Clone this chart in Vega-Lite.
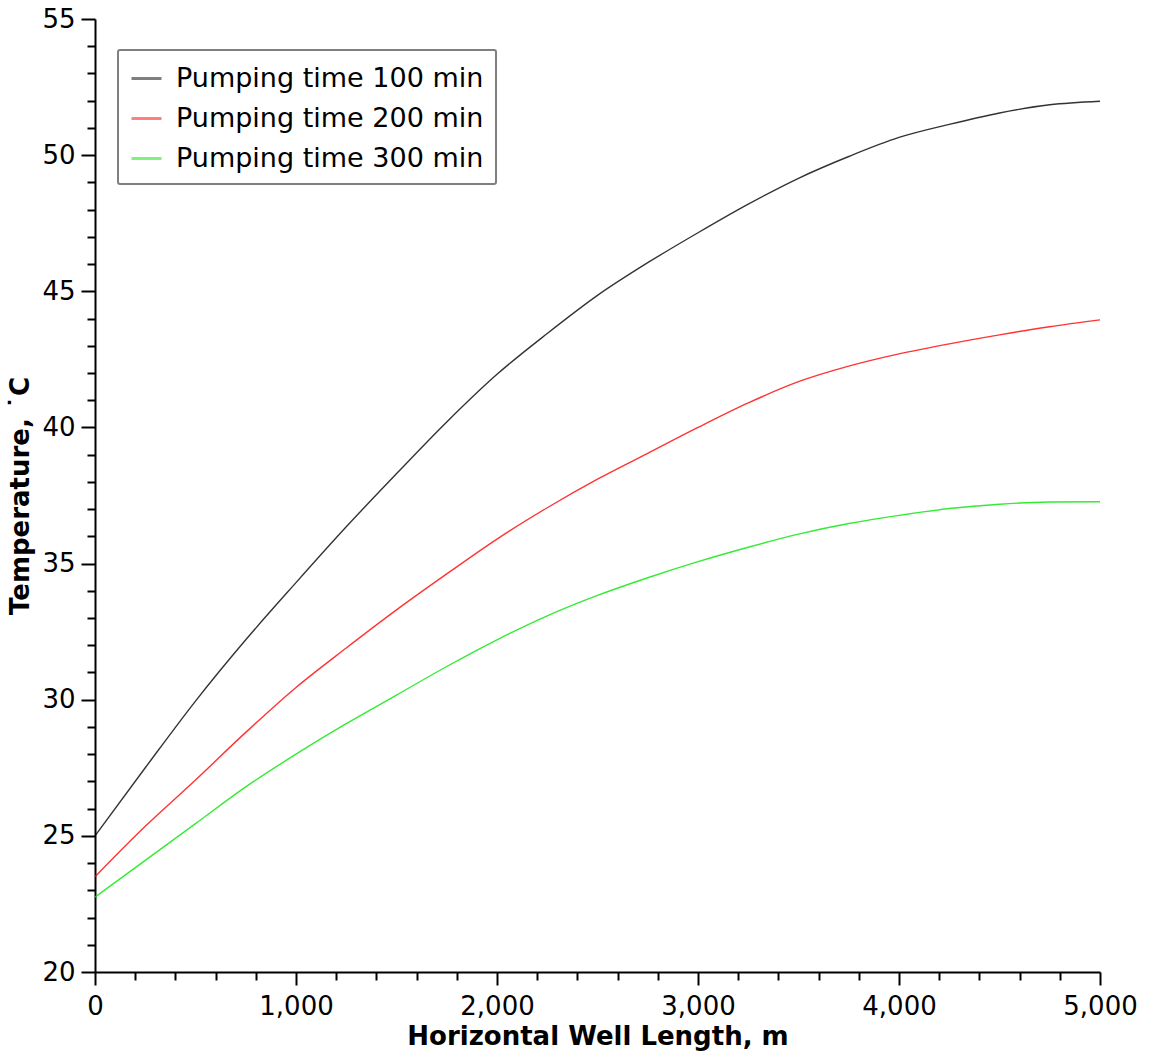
{
  "$schema": "https://vega.github.io/schema/vega-lite/v6.json",
  "autosize": "none",
  "width": 1005,
  "height": 953,
  "padding": {"left": 95, "top": 19, "right": 49, "bottom": 85},
  "background": "white",
  "config": {"view": {"stroke": null}, "font": "DejaVu Sans"},
  "data": {
    "values": [
      {"length_m": 0, "series": "Pumping time 100 min", "temp": 25.0},
      {"length_m": 250, "series": "Pumping time 100 min", "temp": 27.5},
      {"length_m": 500, "series": "Pumping time 100 min", "temp": 29.95},
      {"length_m": 750, "series": "Pumping time 100 min", "temp": 32.2},
      {"length_m": 1000, "series": "Pumping time 100 min", "temp": 34.3},
      {"length_m": 1250, "series": "Pumping time 100 min", "temp": 36.35},
      {"length_m": 1500, "series": "Pumping time 100 min", "temp": 38.3},
      {"length_m": 1750, "series": "Pumping time 100 min", "temp": 40.2},
      {"length_m": 2000, "series": "Pumping time 100 min", "temp": 41.95},
      {"length_m": 2250, "series": "Pumping time 100 min", "temp": 43.45},
      {"length_m": 2500, "series": "Pumping time 100 min", "temp": 44.85},
      {"length_m": 2750, "series": "Pumping time 100 min", "temp": 46.05},
      {"length_m": 3000, "series": "Pumping time 100 min", "temp": 47.15},
      {"length_m": 3250, "series": "Pumping time 100 min", "temp": 48.2},
      {"length_m": 3500, "series": "Pumping time 100 min", "temp": 49.15},
      {"length_m": 3750, "series": "Pumping time 100 min", "temp": 49.95},
      {"length_m": 4000, "series": "Pumping time 100 min", "temp": 50.65},
      {"length_m": 4250, "series": "Pumping time 100 min", "temp": 51.13},
      {"length_m": 4500, "series": "Pumping time 100 min", "temp": 51.55},
      {"length_m": 4750, "series": "Pumping time 100 min", "temp": 51.85},
      {"length_m": 5000, "series": "Pumping time 100 min", "temp": 51.98},

      {"length_m": 0, "series": "Pumping time 200 min", "temp": 23.5},
      {"length_m": 250, "series": "Pumping time 200 min", "temp": 25.35},
      {"length_m": 500, "series": "Pumping time 200 min", "temp": 27.05},
      {"length_m": 750, "series": "Pumping time 200 min", "temp": 28.8},
      {"length_m": 1000, "series": "Pumping time 200 min", "temp": 30.45},
      {"length_m": 1250, "series": "Pumping time 200 min", "temp": 31.9},
      {"length_m": 1500, "series": "Pumping time 200 min", "temp": 33.3},
      {"length_m": 1750, "series": "Pumping time 200 min", "temp": 34.62},
      {"length_m": 2000, "series": "Pumping time 200 min", "temp": 35.9},
      {"length_m": 2250, "series": "Pumping time 200 min", "temp": 37.05},
      {"length_m": 2500, "series": "Pumping time 200 min", "temp": 38.1},
      {"length_m": 2750, "series": "Pumping time 200 min", "temp": 39.05},
      {"length_m": 3000, "series": "Pumping time 200 min", "temp": 40.0},
      {"length_m": 3250, "series": "Pumping time 200 min", "temp": 40.9},
      {"length_m": 3500, "series": "Pumping time 200 min", "temp": 41.68},
      {"length_m": 3750, "series": "Pumping time 200 min", "temp": 42.25},
      {"length_m": 4000, "series": "Pumping time 200 min", "temp": 42.7},
      {"length_m": 4250, "series": "Pumping time 200 min", "temp": 43.07},
      {"length_m": 4500, "series": "Pumping time 200 min", "temp": 43.4},
      {"length_m": 4750, "series": "Pumping time 200 min", "temp": 43.7},
      {"length_m": 5000, "series": "Pumping time 200 min", "temp": 43.95},

      {"length_m": 0, "series": "Pumping time 300 min", "temp": 22.75},
      {"length_m": 250, "series": "Pumping time 300 min", "temp": 24.1},
      {"length_m": 500, "series": "Pumping time 300 min", "temp": 25.45},
      {"length_m": 750, "series": "Pumping time 300 min", "temp": 26.8},
      {"length_m": 1000, "series": "Pumping time 300 min", "temp": 28.0},
      {"length_m": 1250, "series": "Pumping time 300 min", "temp": 29.12},
      {"length_m": 1500, "series": "Pumping time 300 min", "temp": 30.17},
      {"length_m": 1750, "series": "Pumping time 300 min", "temp": 31.22},
      {"length_m": 2000, "series": "Pumping time 300 min", "temp": 32.2},
      {"length_m": 2250, "series": "Pumping time 300 min", "temp": 33.08},
      {"length_m": 2500, "series": "Pumping time 300 min", "temp": 33.83},
      {"length_m": 2750, "series": "Pumping time 300 min", "temp": 34.48},
      {"length_m": 3000, "series": "Pumping time 300 min", "temp": 35.07},
      {"length_m": 3250, "series": "Pumping time 300 min", "temp": 35.6},
      {"length_m": 3500, "series": "Pumping time 300 min", "temp": 36.08},
      {"length_m": 3750, "series": "Pumping time 300 min", "temp": 36.47},
      {"length_m": 4000, "series": "Pumping time 300 min", "temp": 36.77},
      {"length_m": 4250, "series": "Pumping time 300 min", "temp": 37.02},
      {"length_m": 4500, "series": "Pumping time 300 min", "temp": 37.18},
      {"length_m": 4750, "series": "Pumping time 300 min", "temp": 37.26},
      {"length_m": 5000, "series": "Pumping time 300 min", "temp": 37.27}
    ]
  },
  "mark": {"type": "line", "strokeWidth": 1.4, "strokeOpacity": 0.8, "interpolate": "monotone"},
  "encoding": {
    "x": {
      "field": "length_m",
      "type": "quantitative",
      "scale": {"domain": [0, 5000], "nice": false, "zero": false},
      "axis": {
        "title": "Horizontal Well Length, m",
        "values": [0, 200, 400, 600, 800, 1000, 1200, 1400, 1600, 1800, 2000, 2200, 2400, 2600, 2800, 3000, 3200, 3400, 3600, 3800, 4000, 4200, 4400, 4600, 4800, 5000],
        "labelExpr": "datum.value % 1000 === 0 ? format(datum.value, ',') : ''",
        "tickSize": {"condition": {"test": "datum.value % 1000 === 0", "value": 13}, "value": 8},
        "tickColor": "black",
        "tickWidth": 2,
        "domainColor": "black",
        "domainWidth": 2,
        "grid": false,
        "labelOverlap": false,
        "labelFlush": false,
        "labelFont": "DejaVu Sans",
        "labelFontSize": 26,
        "labelColor": "black",
        "labelPadding": 8,
        "titleFont": "DejaVu Sans",
        "titleFontSize": 26,
        "titleFontWeight": "bold",
        "titleColor": "black",
        "titlePadding": 4
      }
    },
    "y": {
      "field": "temp",
      "type": "quantitative",
      "scale": {"domain": [20, 55], "nice": false, "zero": false},
      "axis": {
        "title": "Temperature, ˙C",
        "values": [20, 21, 22, 23, 24, 25, 26, 27, 28, 29, 30, 31, 32, 33, 34, 35, 36, 37, 38, 39, 40, 41, 42, 43, 44, 45, 46, 47, 48, 49, 50, 51, 52, 53, 54, 55],
        "labelExpr": "datum.value % 5 === 0 ? datum.label : ''",
        "tickSize": {"condition": {"test": "datum.value % 5 === 0", "value": 14}, "value": 8},
        "tickColor": "black",
        "tickWidth": 2,
        "domainColor": "black",
        "domainWidth": 2,
        "grid": false,
        "labelOverlap": false,
        "labelFlush": false,
        "labelFont": "DejaVu Sans",
        "labelFontSize": 26,
        "labelColor": "black",
        "labelPadding": 6,
        "titleFont": "DejaVu Sans",
        "titleFontSize": 26,
        "titleFontWeight": "bold",
        "titleColor": "black",
        "titlePadding": 8
      }
    },
    "color": {
      "field": "series",
      "type": "nominal",
      "scale": {
        "domain": ["Pumping time 100 min", "Pumping time 200 min", "Pumping time 300 min"],
        "range": ["#000000", "#ff0000", "#00e600"]
      },
      "legend": {
        "title": null,
        "orient": "none",
        "legendX": 23,
        "legendY": 31,
        "fillColor": "white",
        "strokeColor": "#7f7f7f",
        "padding": 12,
        "cornerRadius": 2,
        "symbolType": "stroke",
        "symbolSize": 900,
        "symbolStrokeWidth": 3,
        "symbolOpacity": 0.5,
        "labelFont": "DejaVu Sans",
        "labelFontSize": 27,
        "labelColor": "black",
        "labelOffset": 13,
        "labelLimit": 600,
        "rowPadding": 10,
        "encode": {"legend": {"update": {"strokeWidth": {"value": 2}}}}
      }
    }
  }
}
